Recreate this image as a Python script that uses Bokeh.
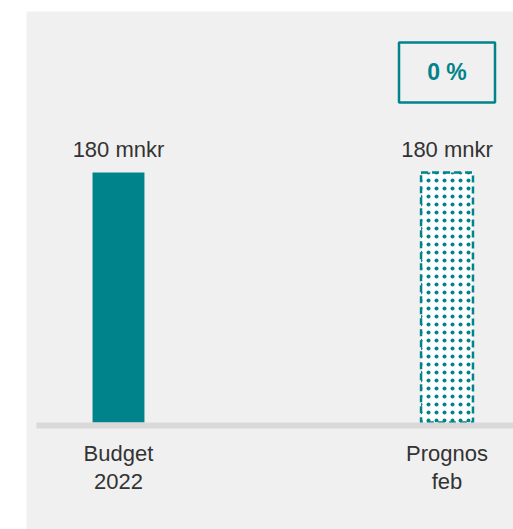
from bokeh.plotting import figure
from bokeh.models import Range1d
from bokeh.core.properties import value
from bokeh.embed import file_html
from bokeh.resources import INLINE

categories = ["Budget\n2022", "Prognos\nfeb"]
values = [180, 180]
value_labels = ["180 mnkr", "180 mnkr"]
change_label = "0 %"

TEAL = "#00838a"
TXT = "#333333"
FONT = "Liberation Sans"

xs = list(range(len(categories)))

p = figure(width=513, height=529, output_backend="svg", toolbar_location=None,
           x_axis_type=None, y_axis_type=None,
           x_range=Range1d(-0.280, 1.2024), y_range=Range1d(-77.04, 295.9),
           min_border_left=26, min_border_top=11, min_border_right=0, min_border_bottom=0)
p.background_fill_color = "#f0f0f0"
p.border_fill_color = "white"
p.outline_line_color = None
p.grid.visible = False

bw = 0.158
# Budget bar (solid)
p.vbar(x=[xs[0]], top=[values[0]], bottom=0, width=bw, fill_color=TEAL, line_color=None)
# Prognos bar (dotted, dashed outline)
p.vbar(x=[xs[1]], top=[values[1]], bottom=0, width=bw, fill_color="white",
       hatch_pattern="dot", hatch_color=TEAL, hatch_scale=8, hatch_weight=2.2,
       line_color=TEAL, line_width=2.5, line_dash="7 4")

# baseline
p.line(x=[-0.25, 1.2024], y=[-2.2, -2.2], line_color="#d9d9d9", line_width=6)

# value labels
p.text(x=xs, y=values, text=value_labels, text_align="center", text_baseline="bottom",
       y_offset=-10, text_font=value(FONT), text_font_size="22px", text_color=TXT)

# category labels
p.text(x=xs, y=[0, 0], text=categories, text_align="center", text_baseline="top",
       y_offset=19, text_font=value(FONT), text_font_size="22px", text_color=TXT,
       text_line_height=1.1)

# change box
box_y = max(values) + 72
p.rect(x=[xs[1]], y=[box_y], width=96, height=60, width_units="screen", height_units="screen",
       fill_color=None, line_color=TEAL, line_width=2.5)
p.text(x=[xs[1]], y=[box_y], text=[change_label], text_align="center", text_baseline="middle",
       text_font=value(FONT), text_font_size="23px", text_font_style="bold", text_color=TEAL)

open("out.html", "w").write(file_html(p, INLINE))
